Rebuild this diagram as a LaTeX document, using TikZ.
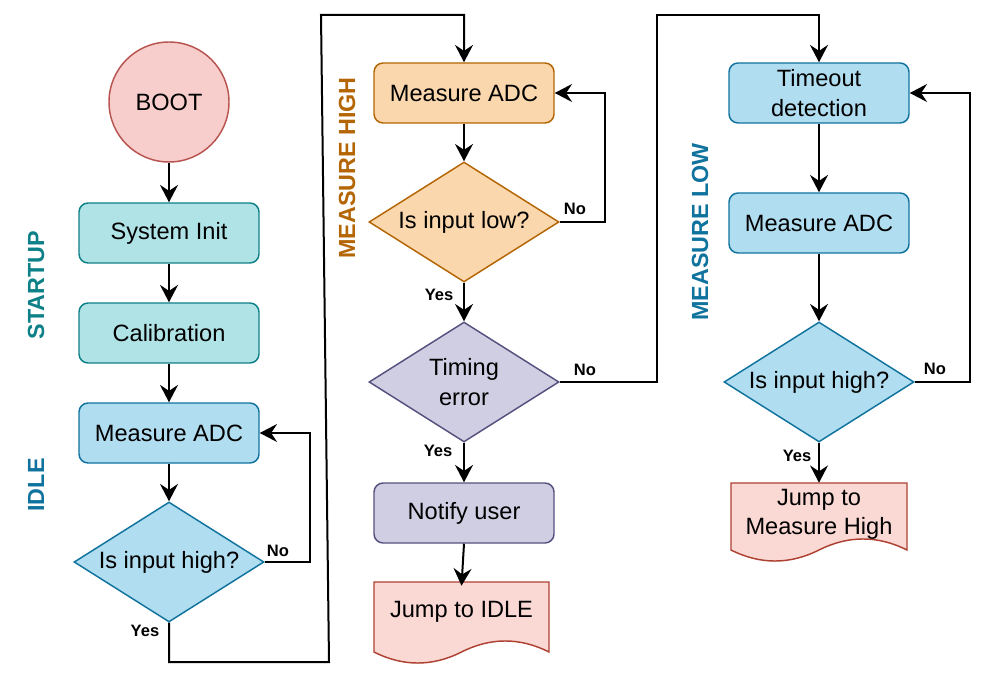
\documentclass[tikz,border=0pt]{standalone}
\usepackage{fontspec}
\setmainfont{Liberation Sans}
\usetikzlibrary{shapes.geometric,arrows.meta}
\definecolor{tealF}{HTML}{B0E3E6}\definecolor{tealS}{HTML}{0E8088}
\definecolor{blueF}{HTML}{B1DDF0}\definecolor{blueS}{HTML}{10739E}
\definecolor{orF}{HTML}{FAD7AC}\definecolor{orS}{HTML}{B46504}
\definecolor{puF}{HTML}{D0CEE2}\definecolor{puS}{HTML}{56517E}
\definecolor{redF}{HTML}{F8CECC}\definecolor{redS}{HTML}{B85450}
\definecolor{docF}{HTML}{FAD9D5}\definecolor{docS}{HTML}{AE4132}
\begin{document}
\begin{tikzpicture}[x=0.75pt,y=-0.75pt,
  txt/.style={font=\fontsize{17.7}{22}\selectfont, align=center, text=black},
  box/.style={txt, draw, rounded corners=6.75pt, minimum width=135pt, minimum height=45pt, line width=1.1pt, inner sep=0pt},
  dia/.style={txt, draw, diamond, aspect=1.583, minimum width=142.5pt, minimum height=90pt, inner sep=0pt, line width=1.1pt},
  docst/.style={draw=docS, fill=docF, line width=1.1pt},
  docnode/.style={txt, inner sep=0pt, minimum height=42pt},
  teal/.style={fill=tealF, draw=tealS},
  blue/.style={fill=blueF, draw=blueS},
  orng/.style={fill=orF, draw=orS},
  purp/.style={fill=puF, draw=puS},
  arr/.style={-{Stealth[length=13pt,width=13.5pt,inset=4.5pt]}, line width=1.5pt, black},
  lbl/.style={font=\bfseries\fontsize{12.4}{14}\selectfont, inner sep=0pt},
  lane/.style={rotate=90, font=\bfseries\fontsize{17.5}{21}\selectfont, inner sep=0pt}
]
\useasboundingbox (0,0) rectangle (984,680);

% lane labels
\node[lane, text=tealS] (lstart) at (36,285) {STARTUP};
\node[lane, text=blueS] (lidle) at (36,485) {IDLE};
\node[lane, text=orS] (lhigh) at (347,168) {MEASURE HIGH};
\node[lane, text=blueS] (llow) at (700,232) {MEASURE LOW};

% column 1
\node[txt, circle, draw=redS, fill=redF, line width=1.1pt, minimum size=90pt, inner sep=0pt] (boot) at (169,102) {BOOT};
\node[box, teal] (sysinit) at (169,233) {System Init};
\node[box, teal] (calib) at (169,333) {Calibration};
\node[box, blue] (adc1) at (169,433) {Measure ADC};
\node[dia, blue] (dec1) at (169,562) {Is input high?};

% column 2
\node[box, orng] (adc2) at (464,93) {Measure ADC};
\node[dia, orng] (dec2) at (464,222) {Is input low?};
\node[dia, purp] (dec3) at (464,382) {Timing\\error};
\node[box, purp] (notify) at (464,513) {Notify user};
\draw[docst] (374,582) -- (549,582) -- (549,652)
  .. controls (519.8,637.3) and (490.7,637.3) .. (461.5,652)
  .. controls (432.3,666.7) and (403.2,666.7) .. (374,652) -- cycle;
\node[docnode, minimum width=131.25pt] (jidle) at (461.5,612) {Jump to IDLE};

% column 3
\node[box, blue] (tmo) at (819,93) {Timeout\\detection};
\node[box, blue] (adc3) at (819,223) {Measure ADC};
\node[dia, blue] (dec4) at (819,382) {Is input high?};
\draw[docst] (731,483) -- (907,483) -- (907,550)
  .. controls (877.7,535.3) and (848.3,535.3) .. (819,550)
  .. controls (789.7,564.7) and (760.3,564.7) .. (731,550) -- cycle;
\node[docnode, minimum width=132pt] (jmh) at (819,514) {Jump to\\Measure High};

% connectors column 1
\draw[arr] (boot) -- (sysinit);
\draw[arr] (sysinit) -- (calib);
\draw[arr] (calib) -- (adc1);
\draw[arr] (adc1) -- (dec1);
\draw[arr] (dec1.east) -- ++(45,0) |- (adc1.east);
\draw[arr] (dec1.south) |- (329,662) -- (321,15) -| (adc2.north);
\node[lbl] (no1) at (278,551) {No};
\node[lbl] (yes1) at (145,631) {Yes};

% connectors column 2
\draw[arr] (adc2) -- (dec2);
\draw[arr] (dec2.east) -- ++(45,0) |- (adc2.east);
\draw[arr] (dec2) -- (dec3);
\draw[arr] (dec3) -- (notify);
\draw[arr] (notify.south) -- ([yshift=-1.5pt]jidle.north);
\draw[arr] (dec3.east) -| (657,15) -| (tmo.north);
\node[lbl] (no2) at (575,209) {No};
\node[lbl] (yes2) at (439,295) {Yes};
\node[lbl] (no3) at (585,370) {No};
\node[lbl] (yes3) at (438,451) {Yes};

% connectors column 3
\draw[arr] (tmo) -- (adc3);
\draw[arr] (adc3) -- (dec4);
\draw[arr] (dec4.east) -- ++(55,0) |- (tmo.east);
\draw[arr] (dec4.south) -- ([yshift=2.25pt]jmh.north);
\node[lbl] (no4) at (935,369) {No};
\node[lbl] (yes4) at (797,456) {Yes};
\end{tikzpicture}
\end{document}
